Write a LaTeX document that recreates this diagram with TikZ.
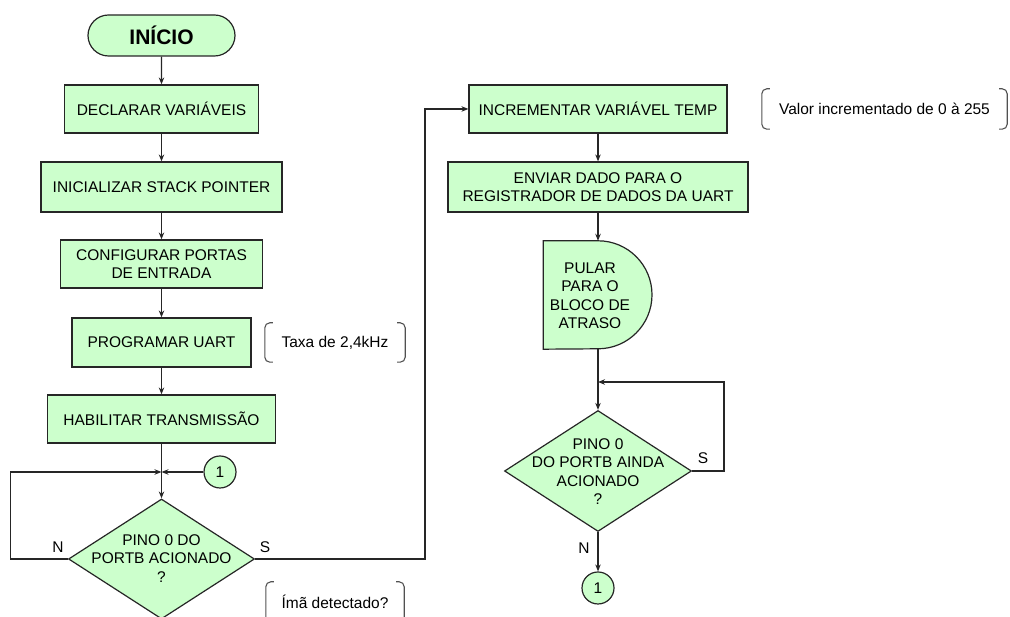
\documentclass[tikz,border=0pt]{standalone}
\usepackage{fontspec}
\setmainfont{Liberation Sans}
\usetikzlibrary{shapes.geometric,shapes.misc,arrows.meta}
\definecolor{boxfill}{HTML}{CCFFCC}
\definecolor{edge}{HTML}{262626}
\begin{document}
\begin{tikzpicture}[x=1pt,y=1pt,
  every node/.style={font=\fontsize{15.5}{18.5}\selectfont, text=black},
  proc/.style={draw=edge, fill=boxfill, line width=1.2pt, minimum height=48pt,
    align=center, inner sep=0pt},
  term/.style={rounded rectangle, draw=edge, fill=boxfill, line width=1.2pt,
    minimum width=147pt, minimum height=41pt, inner sep=0pt,
    font=\fontsize{21}{24}\selectfont\bfseries},
  decision/.style={diamond, draw=edge, fill=boxfill, line width=1.2pt, inner sep=0pt},
  conn/.style={circle, draw=edge, fill=boxfill, line width=1.2pt,
    minimum size=32pt, inner sep=0pt},
  shapeline/.style={draw=edge, fill=boxfill, line width=1.2pt},
  flow/.style={draw=edge, line width=1.3pt, -{Stealth[length=7pt,width=5.5pt]}},
  note/.style={inner sep=0pt},
  bracket/.style={draw=edge!80, line width=1.1pt, rounded corners=5pt},
  lbl/.style={inner sep=0pt}
]
\useasboundingbox (0,0) rectangle (1010,617);
\clip (0,0) rectangle (1010,617);

% ---- left column ----
\node[term] (start) at (161.5,581.5) {INÍCIO};
\node[proc, minimum width=194pt] (decl) at (161.5,508) {DECLARAR VARIÁVEIS};
\node[proc, minimum width=241pt, minimum height=50pt] (init) at (161.5,430) {INICIALIZAR STACK POINTER};
\node[proc, minimum width=202pt] (conf) at (161.5,353) {CONFIGURAR PORTAS\\DE ENTRADA};
\node[proc, minimum width=179pt, minimum height=49pt] (uart) at (161.5,274.5) {PROGRAMAR UART};
\node[proc, minimum width=228pt] (tx) at (161.5,198) {HABILITAR TRANSMISSÃO};
\coordinate (j1) at (161.5,145);
\node[conn] (c1) at (220,145) {1};
\node[decision, minimum width=186pt, minimum height=120pt] (d1) at (161.5,58) {};
\node[align=center] (d1txt) at (161.5,58.5) {PINO 0 DO\\PORTB ACIONADO\\?};
\coordinate (sx) at (425,58);
\coordinate (nx) at (10.5,58);

\node[lbl] (n1) at (58,70) {N};
\node[lbl] (s1) at (265,70) {S};

% ---- right column ----
\node[proc, minimum width=258pt] (inc) at (598,508) {INCREMENTAR VARIÁVEL TEMP};
\node[proc, minimum width=300pt, minimum height=50pt] (env) at (598,430) {ENVIAR DADO PARA O\\REGISTRADOR DE DADOS DA UART};
\node[minimum width=109pt, minimum height=108pt, inner sep=0pt] (delay) at (598,322) {};
\path[shapeline] (delay.south west) -- (delay.north west) -- (delay.north)
  arc[start angle=90, end angle=-90, radius=54pt] -- cycle;
\node[align=center] (delaytxt) at (590,321) {PULAR\\PARA O\\BLOCO DE\\ATRASO};
\coordinate (j2) at (598,235);
\coordinate (lx) at (724,146);
\node[decision, minimum width=187pt, minimum height=121pt] (d2) at (598,146) {};
\node[align=center] (d2txt) at (598,145.5) {PINO 0\\DO PORTB AINDA\\ACIONADO\\?};
\node[conn] (c2) at (598,29) {1};
\node[lbl] (n2) at (584,69) {N};
\node[lbl] (s2) at (703,159) {S};

% ---- annotations ----
\node[note, minimum width=140pt, minimum height=39pt] (taxa) at (335,274.5) {Taxa de 2,4kHz};
\node[note, minimum width=138pt, minimum height=40pt] (ima) at (335,15) {Ímã detectado?};
\node[note, minimum width=245pt, minimum height=40pt] (valor) at (884.5,508) {Valor incrementado de 0 à 255};
\foreach \n in {taxa,ima,valor}{
  \draw[bracket] ([xshift=8pt]\n.north west) -- (\n.north west) -- (\n.south west) -- ([xshift=8pt]\n.south west);
  \draw[bracket] ([xshift=-8pt]\n.north east) -- (\n.north east) -- (\n.south east) -- ([xshift=-8pt]\n.south east);
}

% ---- connectors ----
\draw[flow] (start) -- (decl);
\draw[flow] (decl) -- (init);
\draw[flow] (init) -- (conf);
\draw[flow] (conf) -- (uart);
\draw[flow] (uart) -- (tx);
\draw[flow] (tx) -- (d1);
\draw[flow] (c1) -- (j1);
\draw[flow] (d1.west) -- (nx) |- (j1);
\draw[flow] (d1.east) -- (sx) |- (inc);
\draw[flow] (inc) -- (env);
\draw[flow] (env) -- (delay.north);
\draw[flow] (delay.south) -- (d2);
\draw[flow] (d2.east) -- (lx) |- (j2);
\draw[flow] (d2) -- (c2);
\end{tikzpicture}
\end{document}
